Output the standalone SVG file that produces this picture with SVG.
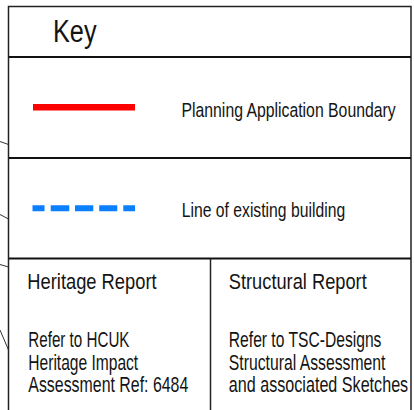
<svg xmlns="http://www.w3.org/2000/svg" width="414" height="410" viewBox="0 0 414 410">
<style>
text{font-family:"Liberation Sans",Arial,sans-serif;fill:#141414}
.k{font-size:31px}
.m{font-size:19.5px}
.b{font-size:22px}
.div{stroke:#111;stroke-width:2;fill:none}
.frame{stroke:#222;stroke-width:1.5;fill:none}
.stray{stroke:#333;stroke-width:1;fill:none}
</style>
<rect x="0" y="0" width="414" height="410" fill="#fff"/>
<g id="frame">
<path class="frame" d="M8.5 410 V6.5 H411 V410"/>
<path class="div" d="M9 57 H411 M9 158 H411 M9 258.5 H411"/>
<path class="frame" d="M210.5 258.5 V410"/>
</g>
<g id="connectors">
<path class="stray" d="M0 141.5 L8.5 144.5 M0 214.5 L8.5 219 M0 264.5 L8.5 267 M0 330 L8.5 350"/>
</g>
<g id="title">
<text class="k" transform="translate(53 41.5) scale(0.815 1)">Key</text>
</g>
<g id="boundary">
<line x1="33" y1="107.3" x2="135" y2="107.3" stroke="#ff0000" stroke-width="6.5"/>
<text class="m" transform="translate(181.5 116.5) scale(0.81 1)">Planning Application Boundary</text>
</g>
<g id="existing">
<path d="M32.5 208.3 H44.5 M50.7 208.3 H69.3 M75 208.3 H93.3 M99.2 208.3 H117.3 M123.3 208.3 H135" stroke="#0a80ff" stroke-width="6" fill="none"/>
<text class="m" transform="translate(181.7 216.7) scale(0.807 1)">Line of existing building</text>
</g>
<g id="heritage">
<text class="b" transform="translate(27.3 289) scale(0.833 1)">Heritage Report</text>
<text class="b" transform="translate(28.3 347.3) scale(0.69 1)">Refer to HCUK</text>
<text class="b" transform="translate(28.3 369.5) scale(0.708 1)">Heritage Impact</text>
<text class="b" transform="translate(28.3 391.7) scale(0.723 1)">Assessment Ref: 6484</text>
</g>
<g id="structural">
<text class="b" transform="translate(228.8 289) scale(0.83 1)">Structural Report</text>
<text class="b" transform="translate(228.8 347.3) scale(0.711 1)">Refer to TSC-Designs</text>
<text class="b" transform="translate(228.8 369.5) scale(0.716 1)">Structural Assessment</text>
<text class="b" transform="translate(228.8 391.7) scale(0.734 1)">and associated Sketches</text>
</g>
</svg>
